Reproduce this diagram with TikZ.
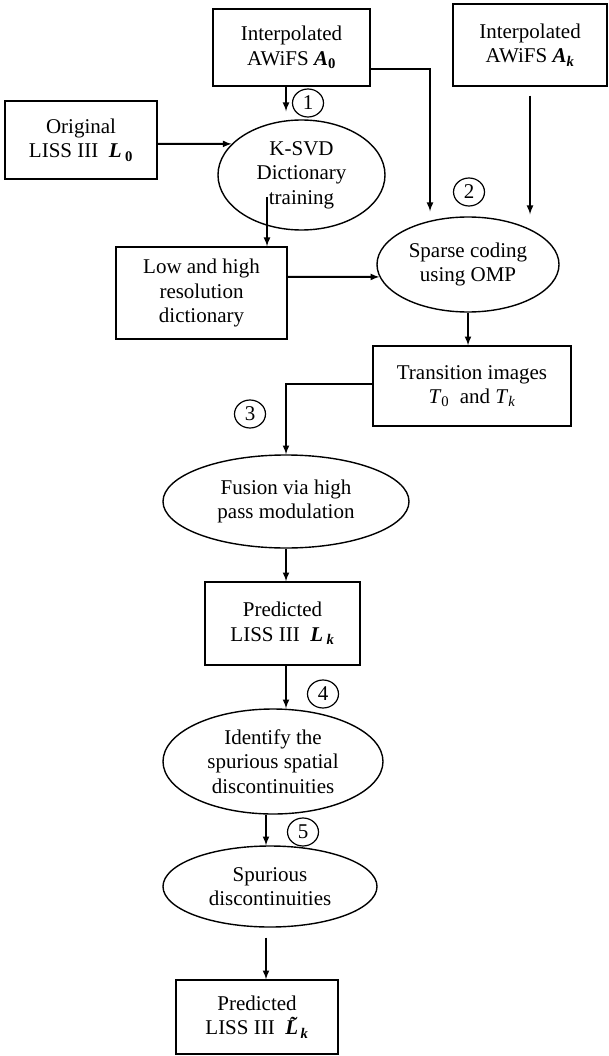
\documentclass[tikz,border=0pt]{standalone}
\usepackage{fontspec}
\setmainfont{Liberation Serif}
\usepackage{tikz}
\usetikzlibrary{arrows,shapes.geometric}

\begin{document}
\begin{tikzpicture}[x=1pt,y=-1pt,
        caja/.style={rectangle,draw=black,line width=1.4pt,align=center,inner sep=0pt},
        proceso/.style={ellipse,draw=black,line width=1.4pt,align=center,inner sep=0pt},
        paso/.style={ellipse,draw=black,line width=1.2pt,inner sep=0pt,minimum width=31pt,minimum height=28pt},
        flecha/.style={-latex,line width=2pt},
        font=\fontsize{21}{24.5}\selectfont]
      \useasboundingbox (0,0) rectangle (609,1056);
      \node [caja,minimum width=157pt,minimum height=77pt] (A0) at (291.5,47.5)  {Interpolated\\AWiFS \textbf{\textit{A}}\textsubscript{\textbf{0}}};
      \node [caja,minimum width=154pt,minimum height=82pt] (Ak) at (530,45)     {Interpolated\\AWiFS \textbf{\textit{A}}\textsubscript{\textbf{\textit{k}}}};
      \node [caja,minimum width=152pt,minimum height=78pt] (L0) at (81,140)     {Original\\LISS III\ \ \textbf{\textit{L}}\,\textsubscript{\textbf{0}}};
      \node [proceso,minimum width=167pt,minimum height=110pt] (ksvd) at (301.5,175) {K-SVD\\Dictionary\\training};
      \node [caja,minimum width=171pt,minimum height=92pt] (dicc) at (201.5,293) {Low and high\\resolution\\dictionary};
      \node [proceso,minimum width=182pt,minimum height=95pt] (omp) at (468,264.5) {Sparse coding\\using OMP};
      \node [caja,minimum width=198pt,minimum height=80pt] (trans) at (472,386) {Transition images\\\textit{T}\textsubscript{0}\ \ and \textit{T}\textsubscript{\textit{k}}};
      \node [proceso,minimum width=246pt,minimum height=93pt] (fusion) at (286,501.5) {Fusion via high\\pass modulation};
      \node [caja,minimum width=155pt,minimum height=83pt] (Lk) at (282.5,623.5) {Predicted\\LISS III\ \ \textbf{\textit{L}}\,\textsubscript{\textbf{\textit{k}}}};
      \node [proceso,minimum width=220pt,minimum height=105pt] (ident) at (273,761.5) {Identify the\\spurious spatial\\discontinuities};
      \node [proceso,minimum width=214pt,minimum height=81pt] (espur) at (270,886.5) {Spurious\\discontinuities};
      \node [caja,minimum width=162pt,minimum height=74pt] (Lt) at (257,1017) {Predicted\\LISS III\ \ \textbf{\textit{\~{L}}}\kern-0.28em\textsubscript{\textbf{\textit{k}}}};
      % numeros de los pasos
      \node [paso] (p1) at (308,103) {1};
      \node [paso] (p2) at (469,192) {2};
      \node [paso] (p3) at (250,414) {3};
      \node [paso] (p4) at (323,694) {4};
      \node [paso] (p5) at (303,832) {5};
      % flechas
      \draw [flecha] ([xshift=-5.5pt]A0.south) -- ([xshift=-15.5pt,yshift=8pt]ksvd.north);
      \draw [flecha] ([yshift=-4pt]L0.east) -- (ksvd.156);
      \draw [flecha] ([yshift=-21.5pt]A0.east) -| ([xshift=-38pt,yshift=5pt]omp.north);
      \draw [flecha] ([yshift=-9pt]Ak.south) -- ([xshift=62pt,yshift=2pt]omp.north);
      \draw [flecha] ([xshift=-34.5pt,yshift=-22pt]ksvd.center) -- ([xshift=65.5pt]dicc.north);
      \draw [flecha] ([yshift=16pt]dicc.east) -- (omp.188);
      \draw [flecha] (omp.south) -- (omp.south |- trans.north);
      \draw [flecha] ([yshift=2pt]trans.west) -| (fusion.north);
      \draw [flecha] (fusion.south) -- (fusion.south |- Lk.north);
      \draw [flecha] ([xshift=3.5pt]Lk.south) -- ([xshift=3.5pt]Lk.south |- ident.north);
      \draw [flecha] ([xshift=-7pt]ident.south) -- ([xshift=-7pt]ident.south |- espur.north);
      \draw [flecha] ([xshift=-4pt,yshift=-10pt]espur.south) -- ([xshift=9pt]Lt.north);
\end{tikzpicture}
\end{document}
